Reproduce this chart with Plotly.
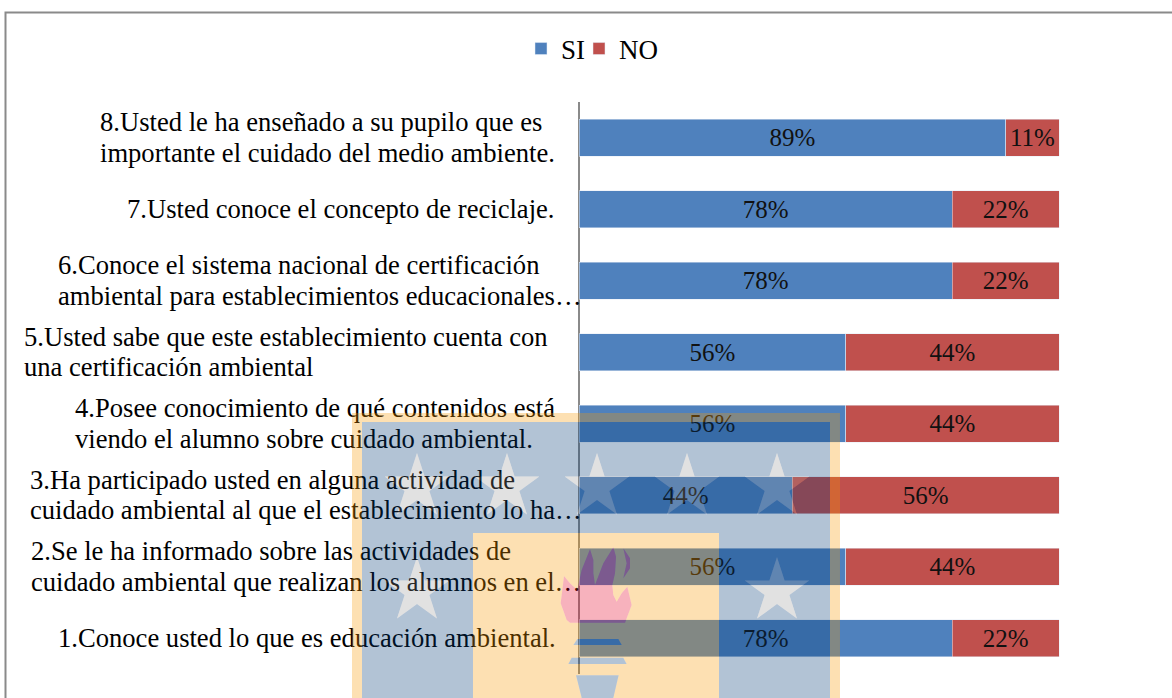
import math
import plotly.graph_objects as go

categories = [
    "1.Conoce usted lo que es educación ambiental.",
    "2.Se le ha informado sobre las actividades de<br>cuidado ambiental que realizan los alumnos en el…",
    "3.Ha participado usted en alguna actividad de<br>cuidado ambiental al que el establecimiento lo ha…",
    "4.Posee conocimiento de qué contenidos está<br>viendo el alumno sobre cuidado ambiental.",
    "5.Usted sabe que este establecimiento cuenta con<br>una certificación ambiental",
    "6.Conoce el sistema nacional de certificación<br>ambiental para establecimientos educacionales…",
    "7.Usted conoce el concepto de reciclaje.",
    "8.Usted le ha enseñado a su pupilo que es<br>importante el cuidado del medio ambiente.",
]
si = [0.7778, 0.5556, 0.4444, 0.5556, 0.5556, 0.7778, 0.7778, 0.8889]
no = [0.2222, 0.4444, 0.5556, 0.4444, 0.4444, 0.2222, 0.2222, 0.1111]
label_left_px = [58, 31, 30, 75, 24, 58, 127, 100]

W, H = 1172, 698
L, R, T, B = 579, 1059, 102, 674
FONT = "Liberation Serif"
LABEL_SIZE = 26.6
DATA_SIZE = 25
LINE_GAP = 30.5


def pct(vals):
    return [f"{round(v * 100)}%" for v in vals]


def px(x):
    return x / W


def py(y):
    return (B - y) / (B - T)


def dx(x):
    return (x - L) / (R - L)


def poly(points):
    return "M" + " L".join(f"{px(x):.5f},{py(y):.5f}" for x, y in points) + " Z"


def rect(x0, y0, x1, y1):
    return poly([(x0, y0), (x1, y0), (x1, y1), (x0, y1)])


def star(cx, cy, r):
    pts = []
    for i in range(10):
        a = math.pi / 2 + i * math.pi / 5
        rr = r if i % 2 == 0 else r * 0.382
        pts.append((cx + rr * math.cos(a), cy - rr * math.sin(a)))
    return poly(pts)


def c(points):
    return poly([(550 + a / 3, 540 + b / 3) for a, b in points])


# one text item per wrapped line, so the line spacing can follow the reference
line_text, line_x, line_y = [], [], []
band = (B - T) / len(categories)
for i, cat in enumerate(categories):
    parts = cat.split("<br>")
    mid = B - (i + 0.5) * band + 2
    for j, part in enumerate(parts):
        line_text.append(part)
        line_x.append(dx(label_left_px[i]))
        line_y.append(mid + (j - (len(parts) - 1) / 2) * LINE_GAP)

fig = go.Figure()
fig.add_bar(y=categories, x=si, name="SI", orientation="h", marker_color="#4F81BD", legend="legend",
            text=pct(si), textposition="inside", insidetextanchor="middle", textangle=0,
            textfont=dict(family=FONT, size=DATA_SIZE, color="#111"), constraintext="none")
fig.add_bar(y=categories, x=no, name="NO", orientation="h", marker_color="#C0504D", legend="legend2",
            text=pct(no), textposition="inside", insidetextanchor="middle", textangle=0,
            textfont=dict(family=FONT, size=DATA_SIZE, color="#111"), constraintext="none")
fig.add_scatter(y=line_y, x=line_x, yaxis="y2", mode="text", text=line_text,
                textposition="middle right", cliponaxis=False, showlegend=False,
                textfont=dict(family=FONT, size=LABEL_SIZE, color="#000"), hoverinfo="skip")

ORANGE = "rgba(248,152,0,0.3)"
BLUE = "rgba(0,55,115,0.3)"
GREY = "rgba(144,144,144,0.27)"
RED = "rgba(228,0,38,0.3)"

stars = [star(417, 487, 34), star(507, 487, 34), star(597, 487, 34), star(687, 487, 34),
         star(777, 487, 34), star(417, 591, 34), star(777, 591, 34)]
flame = [
    c([(60, 248), (50, 240), (32, 190), (42, 108), (60, 130), (82, 150), (85, 135), (95, 90), (120, 28),
       (130, 60), (130, 100), (135, 135), (160, 70), (190, 22), (198, 50), (195, 100), (187, 135),
       (190, 165), (200, 185), (215, 160), (232, 140), (245, 195), (225, 248)]),
    c([(220, 25), (240, 55), (240, 85), (220, 115), (230, 70)]),
]
torch = [
    c([(82, 297), (205, 297), (215, 315), (70, 315)]),
    c([(65, 353), (220, 353), (230, 372), (55, 372)]),
    c([(78, 406), (206, 406), (190, 474), (95, 474)]),
]

center = rect(473, 533, 719, 700)
shapes = [
    dict(type="path", path=rect(352, 413, 840, 700) + " " + rect(362, 422, 830, 700), fillcolor=ORANGE),
    dict(type="path", path=rect(362, 422, 830, 700) + " " + center + " " + " ".join(stars), fillcolor=BLUE),
    dict(type="path", path=center + " " + " ".join(flame + torch), fillcolor=ORANGE),
]
for s in stars:
    shapes.append(dict(type="path", path=s, fillcolor=GREY))
for f in flame:
    shapes.append(dict(type="path", path=f, fillcolor=RED))
for t in torch:
    shapes.append(dict(type="path", path=t, fillcolor=BLUE))
for s in shapes:
    s.update(xref="paper", yref="paper", layer="above", line_width=0)
shapes.append(dict(type="rect", xref="paper", yref="paper", x0=px(5.5), x1=px(1190), y0=py(12.5), y1=py(720),
                   line=dict(color="#8a8a8a", width=2), fillcolor="rgba(0,0,0,0)", layer="above"))

legend_style = dict(yanchor="middle", xanchor="left", y=py(49), font=dict(family=FONT, size=27),
                    bgcolor="rgba(0,0,0,0)")
fig.update_layout(
    width=W, height=H, margin=dict(l=0, r=0, t=T, b=H - B),
    barmode="stack", bargap=0.48, paper_bgcolor="white", plot_bgcolor="white",
    font=dict(family=FONT, size=24, color="#000"),
    showlegend=True,
    legend=dict(x=px(521), **legend_style),
    legend2=dict(x=px(579), **legend_style),
    xaxis=dict(range=[dx(0), dx(W)], showticklabels=False, ticks="", showgrid=False, showline=False,
               zeroline=True, zerolinecolor="#8a8a8a", zerolinewidth=2, fixedrange=True),
    yaxis=dict(type="category", categoryorder="array", categoryarray=categories, showticklabels=False,
               ticks="", showgrid=False, zeroline=False, showline=False, fixedrange=True),
    yaxis2=dict(overlaying="y", range=[B, T], visible=False, fixedrange=True),
    shapes=shapes,
)
fig.write_html("out.html", post_script="document.body.style.margin='0';",
               config=dict(displayModeBar=False))
